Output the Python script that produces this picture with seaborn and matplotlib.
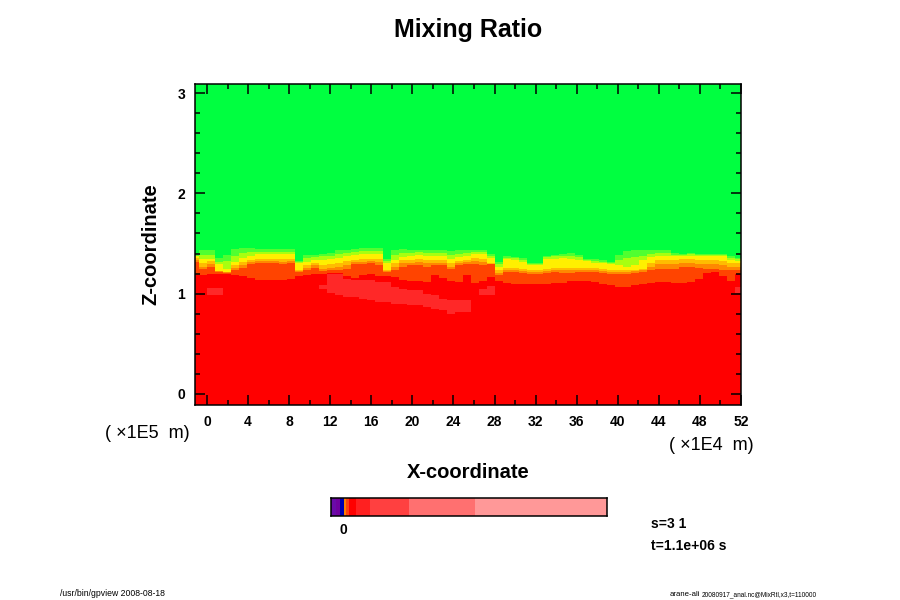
import numpy as np
import seaborn as sns
import matplotlib
matplotlib.use('Agg')
import matplotlib.pyplot as plt
from matplotlib.colors import ListedColormap

# interface heights per x column (units of 1E5 m), left to right
z_lime = [1.40,1.44,1.44,1.35,1.39,1.45,1.46,1.46,1.45,1.45,1.45,1.45,1.45,1.32,1.39,1.39,1.40,1.41,1.44,1.44,1.45,1.46,1.46,1.46,1.34,1.44,1.45,1.44,1.44,1.44,1.44,1.44,1.43,1.44,1.44,
          1.44,1.44,1.40,1.31,1.37,1.36,1.35,1.30,1.30,1.38,1.39,1.40,1.41,1.39,1.34,1.34,1.33,1.31,1.39,1.43,1.44,1.44,1.44,1.44,1.44,1.41,1.40,1.41,1.40,1.40,1.40,1.40,1.37,1.35]
z_chart = [1.38,1.39,1.39,1.31,1.32,1.38,1.41,1.42,1.42,1.42,1.42,1.42,1.42,1.31,1.35,1.36,1.37,1.38,1.40,1.41,1.42,1.43,1.43,1.43,1.32,1.39,1.41,1.41,1.42,1.41,1.41,1.41,1.39,1.40,1.41,
           1.42,1.42,1.38,1.29,1.35,1.35,1.33,1.29,1.29,1.36,1.37,1.38,1.38,1.36,1.33,1.32,1.31,1.30,1.33,1.35,1.36,1.38,1.40,1.41,1.41,1.39,1.39,1.40,1.39,1.39,1.39,1.39,1.35,1.34]
z_yellow = [1.37,1.34,1.34,1.29,1.25,1.31,1.35,1.38,1.40,1.40,1.40,1.40,1.40,1.30,1.31,1.33,1.33,1.34,1.35,1.37,1.39,1.40,1.40,1.40,1.30,1.33,1.36,1.37,1.39,1.38,1.37,1.37,1.34,1.36,1.37,
            1.40,1.40,1.35,1.27,1.34,1.33,1.31,1.28,1.28,1.34,1.34,1.35,1.34,1.33,1.32,1.30,1.30,1.29,1.28,1.27,1.28,1.33,1.36,1.37,1.37,1.37,1.37,1.38,1.38,1.38,1.38,1.37,1.33,1.32]
z_orange = [1.35,1.30,1.32,1.23,1.22,1.28,1.31,1.33,1.34,1.34,1.34,1.34,1.34,1.24,1.28,1.30,1.28,1.29,1.30,1.32,1.33,1.34,1.34,1.34,1.24,1.30,1.33,1.33,1.34,1.33,1.33,1.33,1.30,1.32,1.33,
            1.35,1.34,1.30,1.24,1.26,1.26,1.25,1.24,1.24,1.25,1.26,1.26,1.26,1.26,1.26,1.26,1.25,1.24,1.24,1.24,1.24,1.25,1.30,1.33,1.33,1.33,1.34,1.34,1.33,1.33,1.33,1.32,1.30,1.30]
z_amber = [1.33,1.27,1.29,1.225,1.215,1.26,1.28,1.31,1.32,1.32,1.32,1.31,1.32,1.23,1.26,1.28,1.25,1.26,1.27,1.28,1.31,1.31,1.32,1.31,1.23,1.27,1.30,1.30,1.31,1.30,1.30,1.30,1.27,1.30,1.31,
           1.32,1.31,1.295,1.21,1.24,1.24,1.23,1.22,1.22,1.23,1.24,1.235,1.235,1.24,1.24,1.24,1.23,1.22,1.22,1.22,1.225,1.235,1.27,1.29,1.29,1.29,1.30,1.30,1.295,1.29,1.29,1.28,1.27,1.27]
z_dark = [1.31,1.25,1.27,1.22,1.21,1.24,1.26,1.29,1.30,1.30,1.30,1.29,1.30,1.22,1.24,1.26,1.23,1.24,1.24,1.25,1.29,1.29,1.30,1.28,1.22,1.24,1.27,1.28,1.28,1.27,1.28,1.28,1.25,1.28,1.29,
          1.29,1.28,1.29,1.19,1.22,1.22,1.21,1.20,1.20,1.21,1.22,1.21,1.21,1.22,1.22,1.22,1.21,1.20,1.20,1.20,1.21,1.22,1.24,1.25,1.25,1.25,1.27,1.27,1.26,1.25,1.25,1.24,1.24,1.24]
z_red = [1.19,1.19,1.20,1.20,1.20,1.19,1.18,1.16,1.14,1.14,1.14,1.14,1.15,1.18,1.19,1.20,1.20,1.21,1.21,1.18,1.16,1.19,1.20,1.18,1.18,1.17,1.14,1.12,1.12,1.11,1.19,1.16,1.12,1.11,1.19,
         1.10,1.12,1.17,1.13,1.10,1.09,1.09,1.09,1.09,1.09,1.10,1.10,1.12,1.13,1.13,1.11,1.09,1.08,1.07,1.07,1.08,1.09,1.10,1.11,1.11,1.10,1.10,1.11,1.15,1.21,1.22,1.18,1.12,1.20]

# paler patches inside the red layer: column index, top, bottom
pale_col = [2,3,16,17,18,19,20,21,22,23,24,25,26,27,28,29,30,31,32,33,34,36,37,68]
pale_top = [1.06,1.06,1.09,1.20,1.20,1.15,1.14,1.14,1.14,1.12,1.12,1.07,1.05,1.04,1.04,1.00,0.99,0.95,0.94,0.94,0.94,1.05,1.08,1.07]
pale_bot = [0.98,0.98,1.04,1.00,0.99,0.97,0.96,0.95,0.94,0.92,0.92,0.90,0.90,0.89,0.89,0.87,0.85,0.84,0.80,0.81,0.82,0.99,0.99,1.00]

band_colors = ['#ff2828', '#ff0000', '#ff4400', '#ff8800', '#ffbc00', '#fff000', '#a8ff10', '#50ff30', '#00ff40']

# colour bar: cell colours and how many cells wide each one is
cbar_colors = ['#6a0aa8', '#7000a0', '#0000b0', '#ff8000', '#ff4010', '#ff0000', '#ff2020', '#ff4040', '#ff7070', '#ff9898']
cbar_cells = [15, 13, 12, 5, 10, 20, 40, 117, 198, 393]

x_ticks = [0, 4, 8, 12, 16, 20, 24, 28, 32, 36, 40, 44, 48, 52]
x_minor = [2, 6, 10, 14, 18, 22, 26, 30, 34, 38, 42, 46, 50]
z_ticks = [0, 1, 2, 3]
z_minor = [0.2, 0.4, 0.6, 0.8, 1.2, 1.4, 1.6, 1.8, 2.2, 2.4, 2.6, 2.8]

x_min, x_max = -1.17, 52.0
z_min, z_max = -0.11, 3.09

W, H = 900, 600


def px_axes(fig, left, top, right, bottom):
    return fig.add_axes([left / W, 1 - bottom / H, (right - left) / W, (bottom - top) / H])


sns.set_theme(style='white')
plt.rcParams['font.family'] = ['Liberation Sans', 'DejaVu Sans']

ncol = len(z_red)
nrow = 321
z_rows = np.linspace(z_max, z_min, nrow)

# stack the layers from the bottom up
field = np.ones((nrow, ncol))
for j in range(ncol):
    for k, z_top in enumerate([z_red, z_dark, z_amber, z_orange, z_yellow, z_chart, z_lime]):
        field[z_rows > z_top[j], j] = k + 2
for c, t, b in zip(pale_col, pale_top, pale_bot):
    field[(z_rows < t) & (z_rows > b), c] = 0

fig = plt.figure(figsize=(9, 6), dpi=100)
ax = px_axes(fig, 195, 84, 741, 405)
sns.heatmap(field, ax=ax, cmap=ListedColormap(band_colors), vmin=-0.5, vmax=8.5, cbar=False,
            xticklabels=False, yticklabels=False, rasterized=True)

# columns were read at their centres, so the first centre sits on the left frame
col_left, col_right = 0.5, 68.75
ax.set_xlim(col_left, col_right)


def to_col(v):
    return col_left + (np.array(v) - x_min) / (x_max - x_min) * (col_right - col_left)


def to_row(v):
    return (z_max - np.array(v)) / (z_max - z_min) * nrow


ax.set_axisbelow(False)
ax.set_xticks(to_col(x_ticks))
ax.set_xticklabels(x_ticks, fontweight='bold', fontsize=10, color='black')
ax.set_xticks(to_col(x_minor), minor=True)
ax.set_yticks(to_row(z_ticks))
ax.set_yticklabels(z_ticks, fontweight='bold', fontsize=10, color='black', rotation=0)
ax.set_yticks(to_row(z_minor), minor=True)
ax.tick_params(which='major', direction='in', length=7, width=1.1, color='black',
               top=True, right=True, bottom=True, left=True, pad=7)
ax.tick_params(which='minor', direction='in', length=3.6, width=1.1, color='black',
               top=True, right=True, bottom=True, left=True)
for s in ax.spines.values():
    s.set_visible(True)
    s.set_color('black')
    s.set_linewidth(1.1)

# colour bar
cax = px_axes(fig, 331, 498, 607, 516)
strip = np.repeat(np.arange(len(cbar_colors)), cbar_cells)[None, :]
sns.heatmap(strip, ax=cax, cmap=ListedColormap(cbar_colors), cbar=False, xticklabels=False,
            yticklabels=False, rasterized=True)
for s in cax.spines.values():
    s.set_visible(True)
    s.set_color('black')
    s.set_linewidth(1.1)


def label(x, y, s, **kw):
    kw.setdefault('color', 'black')
    fig.text(x / W, 1 - y / H, s, **kw)


label(468.5, 30, 'Mixing Ratio', fontsize=18, fontweight='bold', ha='center', va='center')
label(468.5, 472, 'X-coordinate', fontsize=14.5, fontweight='bold', ha='center', va='center')
label(151, 244, 'Z-coordinate', fontsize=14.5, fontweight='bold', ha='center', va='center', rotation=90)
label(105, 433, '( ×1E5  m)', fontsize=13, ha='left', va='center')
label(669, 446, '( ×1E4  m)', fontsize=13, ha='left', va='center')
label(343, 530, '0', fontsize=10, fontweight='bold', ha='center', va='center')
label(651, 524, 's=3 1', fontsize=10, fontweight='bold', ha='left', va='center')
label(651, 546, 't=1.1e+06 s', fontsize=10, fontweight='bold', ha='left', va='center')
label(60, 594, '/usr/bin/gpview 2008-08-18', fontsize=6.2, ha='left', va='center')
label(670, 594, 'arane-ali', fontsize=5.6, ha='left', va='center')
label(702, 595, '20080917_anal.nc@MixRtl,x3,t=110000', fontsize=4.7, ha='left', va='center')

fig.savefig('out.png', dpi=100)
